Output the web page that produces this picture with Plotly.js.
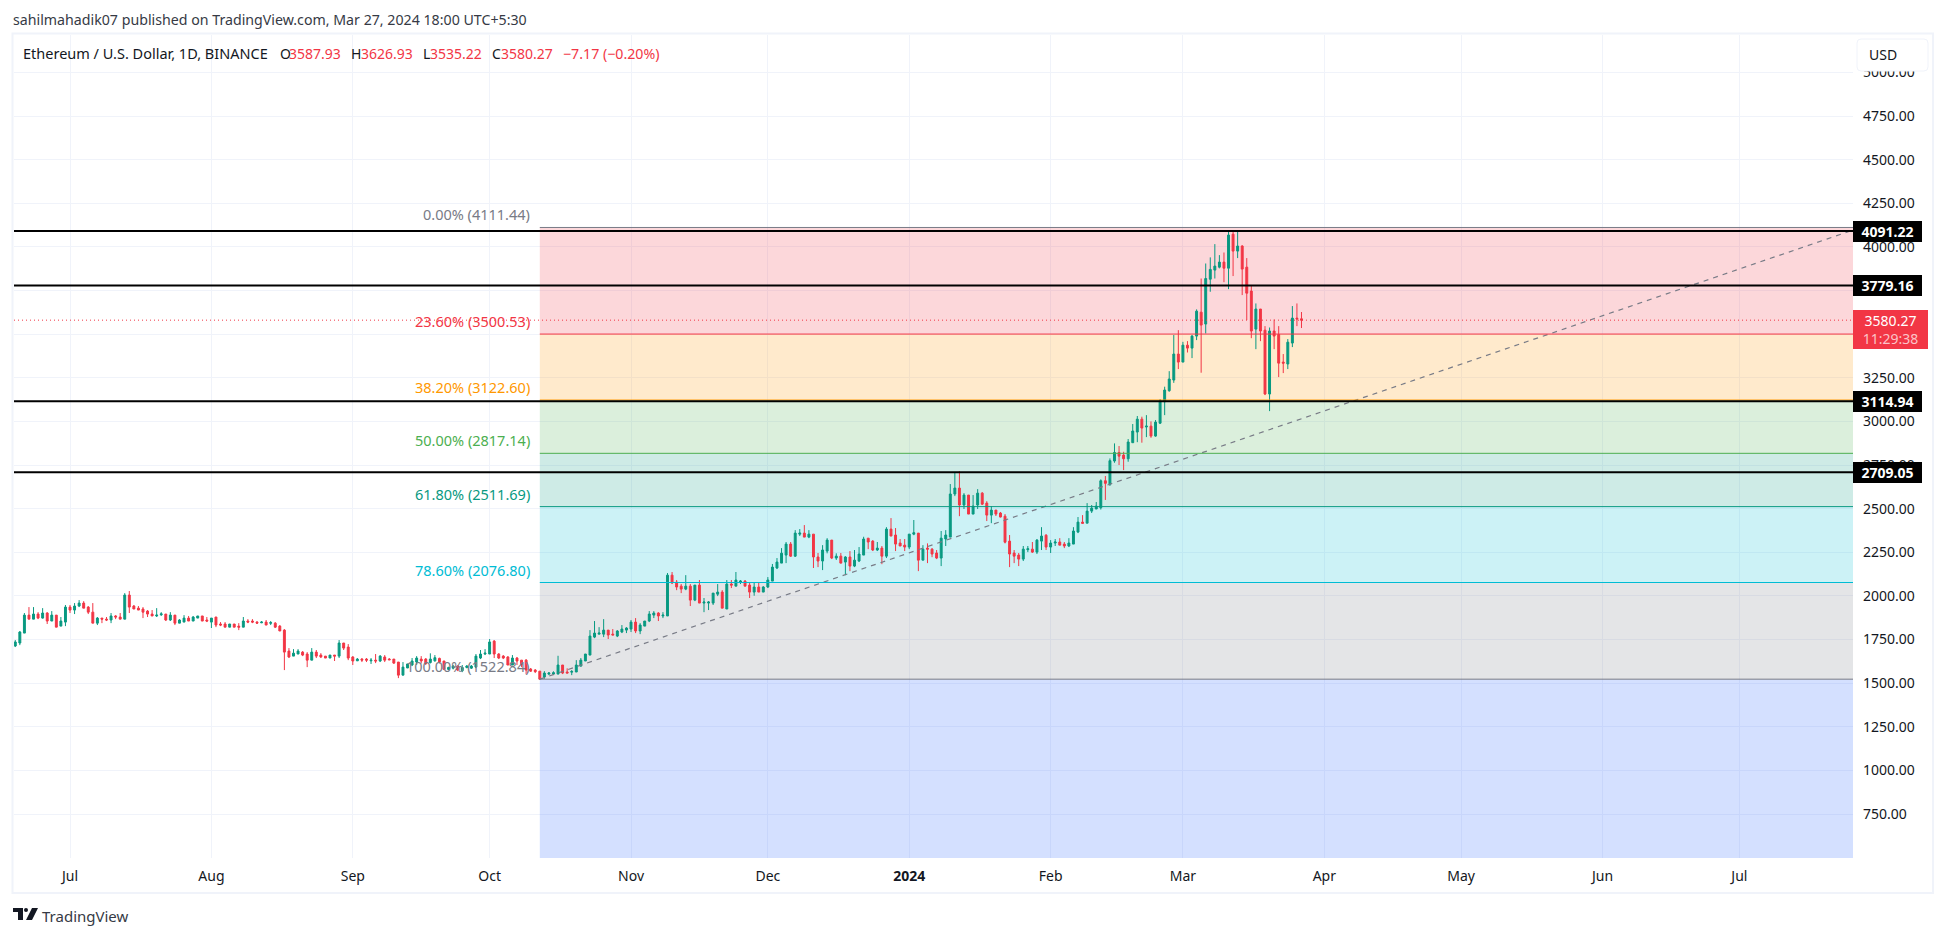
<!DOCTYPE html>
<html><head><meta charset="utf-8">
<script src="https://cdn.plot.ly/plotly-3.0.1.min.js"></script>
<style>html,body{margin:0;padding:0;background:#fff}#c{width:1946px;height:937px}</style>
</head><body><div id="c"></div>
<script>
const FONT = '"Noto Sans", sans-serif';
const firstDay = '2023-06-19';
const opens = [
1713,1730,1787,1890,1867,1896,1873,1902,1856,1890,
1827,1850,1936,1919,1942,1959,1936,1907,1844,1873,
1867,1862,1885,1879,1867,2005,1942,1930,1925,1913,
1896,1885,1892,1896,1862,1890,1844,1850,1873,1856,
1873,1885,1862,1850,1879,1839,1839,1821,1839,1827,
1821,1856,1856,1850,1846,1850,1843,1844,1827,1804,
1684,1655,1667,1678,1667,1632,1678,1661,1655,1644,
1661,1655,1730,1707,1650,1628,1638,1638,1628,1632,
1627,1650,1638,1638,1621,1546,1587,1604,1621,1638,
1638,1618,1628,1642,1627,1579,1586,1598,1571,1590,
1586,1592,1644,1667,1667,1741,1667,1655,1650,1604,
1644,1632,1632,1581,1575,1569,1535,1552,1552,1552,
1604,1564,1563,1564,1598,1627,1661,1764,1781,1781,
1804,1781,1770,1793,1804,1810,1850,1799,1827,1856,
1890,1902,1885,1885,2119,2079,2056,2039,2056,1976,
2062,1959,1959,1959,2010,2022,1925,2068,2056,2079,
2085,2062,2022,2051,2022,2051,2085,2160,2188,2234,
2297,2228,2354,2360,2337,2354,2223,2200,2257,2320,
2217,2228,2194,2223,2171,2200,2234,2331,2314,2263,
2274,2228,2383,2349,2303,2291,2280,2354,2360,2205,
2274,2268,2246,2217,2326,2337,2584,2618,2521,2578,
2469,2521,2589,2532,2463,2492,2475,2457,2314,2246,
2234,2211,2265,2268,2251,2314,2348,2280,2303,2309,
2297,2286,2297,2366,2423,2417,2486,2498,2505,2660,
2640,2773,2822,2807,2786,2878,2939,3013,2968,2973,
2916,2990,3113,3176,3237,3386,3340,3437,3420,3489,
3626,3558,3815,3867,3884,3913,3878,4073,3976,4005,
3884,3747,3529,3644,3523,3157,3518,3498,3340,3329,
3449,3592,3587.93];
const highs = [
1747,1799,1902,1936,1936,1907,1930,1907,1913,1890,
1879,1948,1948,1959,1976,1970,1942,1959,1879,1873,
1879,1902,1890,1902,2016,2028,1948,1942,1936,1919,
1919,1930,1907,1896,1907,1890,1867,1890,1885,1885,
1885,1885,1879,1873,1879,1850,1850,1839,1839,1844,
1879,1867,1867,1856,1856,1862,1856,1850,1833,1810,
1701,1695,1695,1684,1678,1701,1690,1672,1655,1661,
1661,1747,1730,1724,1655,1644,1644,1644,1644,1667,
1661,1661,1644,1638,1621,1621,1610,1644,1655,1655,
1644,1671,1661,1646,1627,1594,1604,1604,1604,1604,
1604,1667,1690,1695,1753,1747,1672,1661,1655,1661,
1650,1632,1638,1587,1581,1569,1569,1564,1568,1657,
1604,1585,1575,1632,1644,1667,1804,1856,1821,1867,
1804,1810,1804,1833,1821,1862,1873,1844,1856,1913,
1913,1907,1907,2131,2137,2091,2068,2119,2068,2062,
2091,1988,1970,2016,2068,2033,2091,2091,2137,2091,
2091,2074,2079,2074,2056,2108,2183,2217,2274,2309,
2309,2377,2383,2406,2377,2354,2246,2291,2331,2320,
2244,2246,2228,2257,2263,2280,2339,2331,2320,2309,
2286,2394,2446,2389,2326,2326,2354,2435,2360,2291,
2301,2274,2263,2372,2377,2641,2710,2715,2589,2578,
2578,2612,2595,2543,2515,2492,2481,2469,2349,2263,
2246,2286,2286,2309,2326,2394,2354,2320,2326,2331,
2309,2331,2394,2452,2463,2532,2521,2538,2668,2687,
2788,2874,2859,2826,2899,2985,3031,3027,3036,3000,
3008,3128,3199,3288,3495,3523,3456,3460,3495,3642,
3819,3905,3940,4016,3953,3968,4090,4090,4087,4010,
3936,3781,3676,3644,3546,3538,3584,3546,3386,3472,
3661,3676,3626.93];
const lows = [
1707,1718,1787,1867,1867,1867,1870,1839,1856,1821,
1827,1827,1902,1896,1936,1930,1896,1844,1833,1844,
1856,1844,1867,1867,1867,1902,1925,1919,1873,1879,
1885,1879,1885,1856,1856,1833,1844,1850,1856,1856,
1873,1856,1850,1816,1821,1827,1821,1821,1821,1804,
1821,1844,1844,1839,1844,1833,1833,1816,1799,1575,
1644,1655,1667,1655,1592,1632,1644,1644,1644,1644,
1627,1644,1690,1632,1604,1627,1621,1621,1610,1615,
1621,1621,1632,1610,1529,1546,1587,1598,1604,1613,
1604,1613,1623,1613,1575,1575,1579,1569,1563,1585,
1581,1586,1638,1661,1667,1644,1638,1638,1604,1604,
1604,1592,1552,1564,1558,1518,1525,1546,1548,1552,
1552,1558,1546,1564,1594,1627,1661,1758,1781,1764,
1753,1776,1764,1787,1787,1793,1787,1781,1827,1850,
1873,1856,1873,1885,2068,2033,2016,2033,1942,1970,
1959,1907,1919,1948,1999,1930,1925,2045,2056,2068,
2056,1988,2001,2022,2022,2045,2085,2154,2188,2188,
2223,2223,2343,2337,2331,2160,2165,2148,2244,2211,
2206,2186,2119,2142,2165,2194,2234,2268,2257,2257,
2182,2217,2343,2257,2286,2257,2268,2348,2142,2205,
2188,2222,2211,2171,2286,2337,2572,2457,2498,2469,
2469,2498,2521,2429,2417,2458,2450,2301,2165,2188,
2171,2200,2251,2246,2240,2263,2263,2246,2286,2291,
2274,2280,2297,2360,2416,2417,2475,2498,2495,2550,
2630,2763,2750,2721,2769,2878,2881,2878,2910,2906,
2912,2985,3036,3170,3221,3300,3340,3395,3363,3466,
3279,3504,3743,3819,3877,3798,3758,3833,3936,3724,
3581,3477,3414,3460,3151,3059,3414,3254,3277,3300,
3426,3546,3535.22];
const closes = [
1736,1793,1890,1867,1896,1873,1902,1856,1890,1821,
1856,1936,1919,1942,1959,1930,1907,1844,1873,1867,
1862,1885,1879,1867,2005,1936,1925,1919,1907,1896,
1885,1890,1897,1862,1890,1844,1862,1873,1856,1879,
1885,1856,1856,1873,1833,1833,1821,1839,1821,1821,
1856,1850,1850,1844,1850,1833,1847,1821,1799,1678,
1650,1672,1684,1661,1632,1678,1655,1650,1644,1661,
1655,1730,1701,1644,1627,1638,1632,1632,1632,1627,
1655,1632,1634,1615,1546,1592,1610,1627,1644,1627,
1613,1638,1646,1622,1579,1590,1598,1575,1590,1598,
1598,1655,1667,1672,1736,1667,1644,1644,1604,1644,
1627,1604,1575,1569,1566,1523,1558,1558,1560,1604,
1558,1558,1567,1604,1632,1667,1770,1787,1787,1804,
1776,1776,1799,1810,1816,1850,1799,1833,1856,1896,
1902,1885,1890,2119,2074,2051,2039,2056,1976,2062,
1959,1965,1965,2016,2022,1930,2068,2062,2091,2085,
2056,2022,2051,2022,2051,2091,2165,2194,2245,2297,
2228,2360,2360,2337,2354,2223,2200,2263,2320,2217,
2228,2188,2223,2171,2205,2240,2326,2309,2263,2274,
2228,2383,2343,2297,2286,2280,2354,2362,2205,2268,
2268,2240,2217,2331,2349,2584,2618,2521,2578,2469,
2515,2589,2526,2463,2492,2469,2452,2308,2240,2228,
2211,2268,2270,2251,2320,2343,2280,2303,2309,2291,
2286,2303,2372,2423,2416,2486,2503,2515,2660,2645,
2775,2822,2801,2786,2882,2945,3013,2962,2973,2916,
2996,3118,3180,3243,3386,3340,3437,3420,3489,3632,
3552,3819,3871,3890,3913,3878,4068,3976,4005,3873,
3735,3518,3644,3518,3157,3518,3489,3334,3334,3454,
3592,3587,3580.27];

const monthTicks = ['2023-07-01','2023-08-01','2023-09-01','2023-10-01','2023-11-01','2023-12-01','2024-01-01','2024-02-01','2024-03-01','2024-04-01','2024-05-01','2024-06-01','2024-07-01'];
const monthLabels = ['Jul','Aug','Sep','Oct','Nov','Dec','<b>2024</b>','Feb','Mar','Apr','May','Jun','Jul'];
const priceTicks = [750,1000,1250,1500,1750,2000,2250,2500,2750,3000,3250,3500,3750,4000,4250,4500,4750,5000];
const priceTickHidden = [3500,3750];

const fibStart = '2023-10-12';
const fibEnd = '2024-07-25 22:00';
const fibLabels = ['0.00%','23.60%','38.20%','50.00%','61.80%','78.60%','100.00%'];
const fibValues = [4111.44,3500.53,3122.60,2817.14,2511.69,2076.80,1522.84];
const fibColors = ['#787B86','#F23645','#FF9800','#4CAF50','#089981','#00BCD4','#787B86'];
const bandColors = ['rgba(242,54,69,0.2)','rgba(255,152,0,0.2)','rgba(76,175,80,0.2)','rgba(8,153,129,0.2)','rgba(0,188,212,0.2)','rgba(120,123,134,0.2)','rgba(41,98,255,0.2)'];
const hLevels = [4091.22,3779.16,3114.94,2709.05];
const lastPrice = 3580.27;
const trendX = ['2023-10-12','2024-07-26'];
const trendY = [1522.84,4097];
const xRange = ['2023-06-18 17:17','2024-07-25 22:00'];
const yRange = [498.1,5214.4];

const W = 1946, H = 937, L = 14, R = 1853, T = 35, B = 858;
const fx = px => (px - L) / (R - L);
const fy = py => (B - py) / (B - T);

const dates = opens.map((_, i) => new Date(Date.parse(firstDay) + i * 864e5).toISOString().slice(0, 10));

const shapes = [], annotations = [];
function note(px, py, text, color, size, anchor) {
  annotations.push({xref:'paper', yref:'paper', x:fx(px), y:fy(py), text:text, showarrow:false,
    xanchor:anchor||'left', yanchor:'middle', borderpad:0, borderwidth:0,
    font:{family:FONT, size:size||14, color:color||'#131722'}});
}
fibValues.forEach((v, i) => {
  const next = i + 1 < fibValues.length ? fibValues[i + 1] : yRange[0];
  shapes.push({type:'rect', layer:'between', xref:'x', yref:'y', x0:fibStart, x1:fibEnd, y0:next, y1:v, fillcolor:bandColors[i], line:{width:0}});
});
fibValues.forEach((v, i) => {
  shapes.push({type:'line', layer:'above', xref:'x', yref:'y', x0:fibStart, x1:fibEnd, y0:v, y1:v, line:{color:fibColors[i], width:1}});
  annotations.push({xref:'paper', yref:'y', x:fx(529.5), y:v, yshift:13, text:fibLabels[i]+' ('+v.toFixed(2)+')', showarrow:false,
    xanchor:'right', yanchor:'middle', borderpad:0, borderwidth:0, font:{family:FONT, size:14.5, color:fibColors[i]}});
});
hLevels.forEach(v => {
  shapes.push({type:'line', layer:'above', xref:'paper', yref:'y', x0:0, x1:1, y0:v, y1:v, line:{color:'#000000', width:2}});
  annotations.push({xref:'paper', yref:'y', x:1, y:v, text:'<b>'+v.toFixed(2)+'</b>', showarrow:false, xanchor:'left', yanchor:'middle',
    width:69, height:21, align:'center', valign:'middle', bgcolor:'#000000', borderpad:0, borderwidth:0, font:{family:FONT, size:14, color:'#ffffff'}});
});
shapes.push({type:'line', layer:'above', xref:'paper', yref:'y', x0:0, x1:1, y0:lastPrice, y1:lastPrice, line:{color:'#F23645', width:1, dash:'1px,3px'}});
annotations.push({xref:'paper', yref:'y', x:1, y:lastPrice, yshift:10, text:'3580.27<br><span style="color:#FBC3C8">11:29:38</span>', showarrow:false,
  xanchor:'left', yanchor:'top', width:75, height:39, align:'center', valign:'middle', bgcolor:'#F23645', borderpad:0, borderwidth:0, font:{family:FONT, size:14, color:'#ffffff'}});

// chart frame and the USD button
shapes.push({type:'rect', layer:'above', xref:'paper', yref:'paper', x0:fx(12.5), x1:fx(1933), y0:fy(893), y1:fy(33.5), line:{color:'#F0F3FA', width:2}, fillcolor:'rgba(0,0,0,0)'});
shapes.push({type:'path', layer:'above', xref:'paper', yref:'paper',
  path:`M${fx(1861)},${fy(39)} L${fx(1924)},${fy(39)} Q${fx(1928)},${fy(39)} ${fx(1928)},${fy(43)} L${fx(1928)},${fy(67)} Q${fx(1928)},${fy(71)} ${fx(1924)},${fy(71)} L${fx(1861)},${fy(71)} Q${fx(1857)},${fy(71)} ${fx(1857)},${fy(67)} L${fx(1857)},${fy(43)} Q${fx(1857)},${fy(39)} ${fx(1861)},${fy(39)} Z`,
  fillcolor:'#ffffff', line:{color:'#F0F3FA', width:1}});
// TradingView mark
shapes.push({type:'path', layer:'above', xref:'paper', yref:'paper', fillcolor:'#131722', line:{width:0},
  path:`M${fx(13)},${fy(908)} L${fx(23)},${fy(908)} L${fx(23)},${fy(920)} L${fx(18)},${fy(920)} L${fx(18)},${fy(912)} L${fx(13)},${fy(912)} Z M${fx(32)},${fy(908)} L${fx(38)},${fy(908)} L${fx(32)},${fy(920)} L${fx(26)},${fy(920)} Z`});
shapes.push({type:'circle', layer:'above', xref:'paper', yref:'paper', fillcolor:'#131722', line:{width:0}, x0:fx(24), x1:fx(28), y0:fy(912), y1:fy(908)});

note(13, 20, 'sahilmahadik07 published on TradingView.com, Mar 27, 2024 18:00 UTC+5:30', '#363A45', 14.2);
note(23, 53, 'Ethereum / U.S. Dollar, 1D, BINANCE', '#131722', 14.5);
note(279.5, 53, 'O', '#131722', 14);
note(289, 53, '3587.93', '#F23645', 14);
note(351, 53, 'H', '#131722', 14);
note(361, 53, '3626.93', '#F23645', 14);
note(423, 53, 'L', '#131722', 14);
note(429.5, 53, '3535.22', '#F23645', 14);
note(492, 53, 'C', '#131722', 14);
note(501, 53, '3580.27', '#F23645', 14);
note(563, 53, '\u22127.17 (\u22120.20%)', '#F23645', 14.2);
note(1869, 55, 'USD', '#131722', 14);
note(42, 916, 'TradingView', '#363A45', 15);

const traces = [
  {type:'candlestick', x:dates, open:opens, high:highs, low:lows, close:closes,
   increasing:{line:{color:'#089981', width:1}, fillcolor:'#089981'},
   decreasing:{line:{color:'#F23645', width:1}, fillcolor:'#F23645'},
   whiskerwidth:0, hoverinfo:'x+y', showlegend:false},
  {type:'scatter', mode:'lines', x:trendX, y:trendY, line:{color:'#787B86', width:1.2, dash:'5px,5px'}, hoverinfo:'skip', showlegend:false}
];
const layout = {
  width:W, height:H, autosize:false, showlegend:false,
  paper_bgcolor:'#ffffff', plot_bgcolor:'#ffffff',
  margin:{l:L, r:W-R, t:T, b:H-B, pad:0}, boxgap:0.4,
  font:{family:FONT, size:14, color:'#131722'},
  xaxis:{type:'date', range:xRange, tickmode:'array', tickvals:monthTicks, ticktext:monthLabels,
    showgrid:true, gridcolor:'#F0F3FA', gridwidth:1, zeroline:false, showline:false, ticks:'', ticklabelstandoff:8,
    tickfont:{family:FONT, size:14, color:'#131722'}, rangeslider:{visible:false}, tickangle:0},
  yaxis:{side:'right', range:yRange, tickmode:'array', tickvals:priceTicks,
    ticktext:priceTicks.map(v => priceTickHidden.includes(v) ? '' : v.toFixed(2)),
    showgrid:true, gridcolor:'#F0F3FA', gridwidth:1, zeroline:false, showline:false, ticks:'', ticklabelstandoff:9,
    tickfont:{family:FONT, size:14, color:'#131722'}},
  shapes:shapes, annotations:annotations
};
Plotly.newPlot('c', traces, layout, {displayModeBar:false, staticPlot:true});
</script></body></html>
